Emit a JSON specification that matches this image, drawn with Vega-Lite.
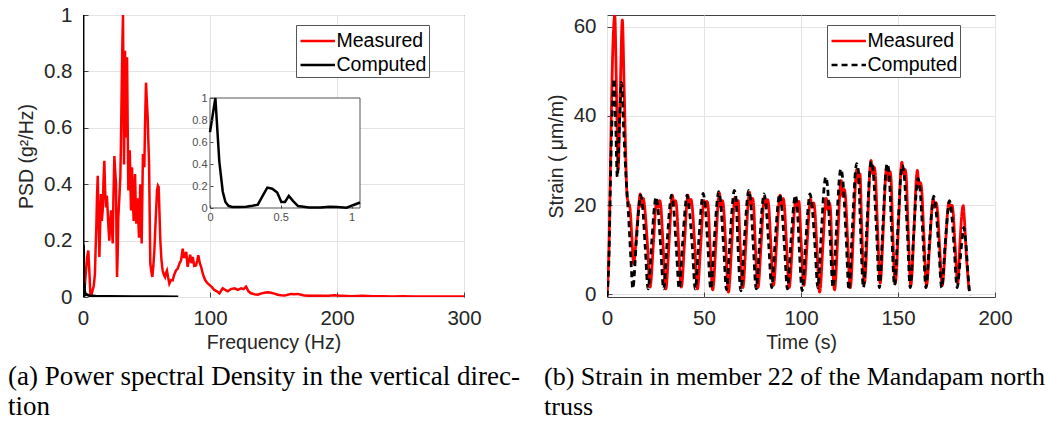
{
  "$schema": "https://vega.github.io/schema/vega-lite/v6.json",
  "background": "white",
  "padding": {"left": 7, "top": 4, "right": 0, "bottom": 0},
  "config": {
    "view": {"stroke": "#444444", "strokeWidth": 1},
    "font": "Liberation Sans",
    "axis": {"grid": true, "gridColor": "#e3e3e3", "gridWidth": 1, "domain": false, "ticks": true, "tickSize": -5, "tickColor": "#444444", "labelFlush": false, "labelFont": "Liberation Sans", "labelFontSize": 20.5, "labelColor": "#262626", "labelPadding": 16, "titleFont": "Liberation Sans", "titleFontSize": 19.5, "titleFontWeight": "normal", "titleColor": "#262626"},
    "axisX": {"titlePadding": 5},
    "axisY": {"titlePadding": 7},
    "legend": {"orient": "none", "symbolType": "M-0.9,0H1.8", "symbolSize": 650, "symbolStrokeWidth": 2.5, "labelFont": "Liberation Sans", "labelFontSize": 19.5, "labelColor": "black", "labelOffset": 10.5, "strokeColor": "#555555", "strokeWidth": 1, "fillColor": "white", "padding": 2, "rowPadding": 0},
    "title": {"font": "Liberation Serif", "fontSize": 26, "fontWeight": "normal", "color": "black", "lineHeight": 30, "anchor": "start"}
  },
  "datasets": {
    "psdm": [
      {"f":0,"p":0,"s":"Measured"},{"f":0.8,"p":0.01,"s":"Measured"},{"f":1.6,"p":0.05,"s":"Measured"},{"f":2.4,"p":0.094,"s":"Measured"},{"f":3.2,"p":0.14,"s":"Measured"},{"f":4.2,"p":0.165,"s":"Measured"},{"f":5.0,"p":0.09,"s":"Measured"},{"f":5.8,"p":0.013,"s":"Measured"},{"f":6.7,"p":0.01,"s":"Measured"},{"f":7.6,"p":0.024,"s":"Measured"},{"f":8.5,"p":0.04,"s":"Measured"},{"f":9.4,"p":0.083,"s":"Measured"},{"f":10.0,"p":0.18,"s":"Measured"},{"f":10.5,"p":0.248,"s":"Measured"},{"f":11.0,"p":0.35,"s":"Measured"},{"f":11.6,"p":0.43,"s":"Measured"},{"f":12.2,"p":0.3,"s":"Measured"},{"f":12.9,"p":0.142,"s":"Measured"},{"f":13.5,"p":0.25,"s":"Measured"},{"f":14.2,"p":0.365,"s":"Measured"},{"f":14.8,"p":0.27,"s":"Measured"},{"f":15.5,"p":0.307,"s":"Measured"},{"f":16.2,"p":0.42,"s":"Measured"},{"f":16.8,"p":0.483,"s":"Measured"},{"f":17.4,"p":0.38,"s":"Measured"},{"f":18.1,"p":0.318,"s":"Measured"},{"f":18.8,"p":0.36,"s":"Measured"},{"f":19.4,"p":0.307,"s":"Measured"},{"f":20.0,"p":0.25,"s":"Measured"},{"f":20.7,"p":0.2,"s":"Measured"},{"f":21.4,"p":0.26,"s":"Measured"},{"f":22.1,"p":0.307,"s":"Measured"},{"f":22.8,"p":0.24,"s":"Measured"},{"f":23.4,"p":0.19,"s":"Measured"},{"f":24.0,"p":0.36,"s":"Measured"},{"f":24.7,"p":0.5,"s":"Measured"},{"f":25.3,"p":0.45,"s":"Measured"},{"f":26.0,"p":0.4,"s":"Measured"},{"f":26.4,"p":0.2,"s":"Measured"},{"f":26.8,"p":0.071,"s":"Measured"},{"f":27.3,"p":0.15,"s":"Measured"},{"f":27.8,"p":0.28,"s":"Measured"},{"f":28.6,"p":0.35,"s":"Measured"},{"f":29.4,"p":0.425,"s":"Measured"},{"f":29.9,"p":0.55,"s":"Measured"},{"f":30.4,"p":0.72,"s":"Measured"},{"f":31.0,"p":0.9,"s":"Measured"},{"f":31.5,"p":1.0,"s":"Measured"},{"f":31.9,"p":0.75,"s":"Measured"},{"f":32.3,"p":0.47,"s":"Measured"},{"f":32.7,"p":0.65,"s":"Measured"},{"f":33.1,"p":0.873,"s":"Measured"},{"f":33.5,"p":0.7,"s":"Measured"},{"f":33.9,"p":0.566,"s":"Measured"},{"f":34.3,"p":0.75,"s":"Measured"},{"f":34.7,"p":0.85,"s":"Measured"},{"f":35.2,"p":0.6,"s":"Measured"},{"f":35.7,"p":0.378,"s":"Measured"},{"f":36.2,"p":0.45,"s":"Measured"},{"f":36.8,"p":0.52,"s":"Measured"},{"f":37.3,"p":0.42,"s":"Measured"},{"f":37.8,"p":0.307,"s":"Measured"},{"f":38.2,"p":0.38,"s":"Measured"},{"f":38.6,"p":0.46,"s":"Measured"},{"f":39.2,"p":0.35,"s":"Measured"},{"f":39.9,"p":0.27,"s":"Measured"},{"f":40.4,"p":0.36,"s":"Measured"},{"f":41.0,"p":0.436,"s":"Measured"},{"f":41.5,"p":0.33,"s":"Measured"},{"f":42.0,"p":0.26,"s":"Measured"},{"f":42.5,"p":0.3,"s":"Measured"},{"f":43.0,"p":0.35,"s":"Measured"},{"f":43.5,"p":0.28,"s":"Measured"},{"f":44.1,"p":0.21,"s":"Measured"},{"f":44.6,"p":0.3,"s":"Measured"},{"f":45.1,"p":0.4,"s":"Measured"},{"f":45.6,"p":0.3,"s":"Measured"},{"f":46.2,"p":0.19,"s":"Measured"},{"f":46.7,"p":0.35,"s":"Measured"},{"f":47.2,"p":0.507,"s":"Measured"},{"f":47.7,"p":0.48,"s":"Measured"},{"f":48.3,"p":0.46,"s":"Measured"},{"f":48.9,"p":0.62,"s":"Measured"},{"f":49.6,"p":0.76,"s":"Measured"},{"f":50.2,"p":0.7,"s":"Measured"},{"f":50.9,"p":0.64,"s":"Measured"},{"f":51.4,"p":0.56,"s":"Measured"},{"f":52.0,"p":0.48,"s":"Measured"},{"f":52.5,"p":0.3,"s":"Measured"},{"f":53.0,"p":0.118,"s":"Measured"},{"f":53.8,"p":0.09,"s":"Measured"},{"f":54.6,"p":0.071,"s":"Measured"},{"f":55.4,"p":0.11,"s":"Measured"},{"f":56.2,"p":0.165,"s":"Measured"},{"f":57.2,"p":0.27,"s":"Measured"},{"f":58.3,"p":0.378,"s":"Measured"},{"f":59.0,"p":0.395,"s":"Measured"},{"f":59.6,"p":0.39,"s":"Measured"},{"f":60.2,"p":0.3,"s":"Measured"},{"f":60.9,"p":0.2,"s":"Measured"},{"f":61.8,"p":0.13,"s":"Measured"},{"f":62.7,"p":0.094,"s":"Measured"},{"f":63.6,"p":0.08,"s":"Measured"},{"f":64.6,"p":0.071,"s":"Measured"},{"f":65.3,"p":0.085,"s":"Measured"},{"f":66.1,"p":0.094,"s":"Measured"},{"f":67.0,"p":0.07,"s":"Measured"},{"f":68.0,"p":0.047,"s":"Measured"},{"f":69.3,"p":0.06,"s":"Measured"},{"f":70.6,"p":0.059,"s":"Measured"},{"f":71.9,"p":0.08,"s":"Measured"},{"f":73.2,"p":0.094,"s":"Measured"},{"f":74.5,"p":0.1,"s":"Measured"},{"f":75.9,"p":0.118,"s":"Measured"},{"f":77.2,"p":0.13,"s":"Measured"},{"f":78.5,"p":0.171,"s":"Measured"},{"f":79.5,"p":0.142,"s":"Measured"},{"f":80.3,"p":0.142,"s":"Measured"},{"f":81.3,"p":0.16,"s":"Measured"},{"f":82.4,"p":0.107,"s":"Measured"},{"f":83.4,"p":0.13,"s":"Measured"},{"f":84.4,"p":0.15,"s":"Measured"},{"f":85.4,"p":0.12,"s":"Measured"},{"f":86.4,"p":0.142,"s":"Measured"},{"f":87.6,"p":0.11,"s":"Measured"},{"f":89.0,"p":0.112,"s":"Measured"},{"f":90.0,"p":0.13,"s":"Measured"},{"f":90.8,"p":0.148,"s":"Measured"},{"f":92.0,"p":0.12,"s":"Measured"},{"f":93.0,"p":0.107,"s":"Measured"},{"f":94.5,"p":0.08,"s":"Measured"},{"f":96.1,"p":0.061,"s":"Measured"},{"f":97.8,"p":0.05,"s":"Measured"},{"f":99.5,"p":0.043,"s":"Measured"},{"f":101.5,"p":0.035,"s":"Measured"},{"f":103.4,"p":0.025,"s":"Measured"},{"f":105.4,"p":0.02,"s":"Measured"},{"f":107.4,"p":0.013,"s":"Measured"},{"f":108.7,"p":0.022,"s":"Measured"},{"f":110.0,"p":0.031,"s":"Measured"},{"f":112.0,"p":0.025,"s":"Measured"},{"f":114.0,"p":0.02,"s":"Measured"},{"f":116.5,"p":0.028,"s":"Measured"},{"f":119.2,"p":0.031,"s":"Measured"},{"f":122.0,"p":0.025,"s":"Measured"},{"f":124.5,"p":0.031,"s":"Measured"},{"f":126.5,"p":0.028,"s":"Measured"},{"f":128.4,"p":0.037,"s":"Measured"},{"f":130.3,"p":0.02,"s":"Measured"},{"f":132.3,"p":0.013,"s":"Measured"},{"f":135.0,"p":0.01,"s":"Measured"},{"f":137.6,"p":0.008,"s":"Measured"},{"f":140.0,"p":0.012,"s":"Measured"},{"f":142.8,"p":0.015,"s":"Measured"},{"f":145.5,"p":0.017,"s":"Measured"},{"f":148.1,"p":0.015,"s":"Measured"},{"f":150.7,"p":0.012,"s":"Measured"},{"f":153.3,"p":0.008,"s":"Measured"},{"f":156.0,"p":0.006,"s":"Measured"},{"f":158.6,"p":0.005,"s":"Measured"},{"f":161.2,"p":0.008,"s":"Measured"},{"f":163.8,"p":0.011,"s":"Measured"},{"f":166.4,"p":0.01,"s":"Measured"},{"f":169.0,"p":0.011,"s":"Measured"},{"f":171.7,"p":0.008,"s":"Measured"},{"f":174.3,"p":0.005,"s":"Measured"},{"f":180,"p":0.004,"s":"Measured"},{"f":186,"p":0.004,"s":"Measured"},{"f":192,"p":0.004,"s":"Measured"},{"f":197.9,"p":0.006,"s":"Measured"},{"f":204,"p":0.004,"s":"Measured"},{"f":212,"p":0.003,"s":"Measured"},{"f":220,"p":0.004,"s":"Measured"},{"f":228,"p":0.003,"s":"Measured"},{"f":236,"p":0.003,"s":"Measured"},{"f":244,"p":0.002,"s":"Measured"},{"f":252,"p":0.003,"s":"Measured"},{"f":260,"p":0.002,"s":"Measured"},{"f":270,"p":0.002,"s":"Measured"},{"f":280,"p":0.002,"s":"Measured"},{"f":290,"p":0.002,"s":"Measured"},{"f":300,"p":0.002,"s":"Measured"}
    ],
    "psdc": [
      {"f":0,"p":0.69,"s":"Computed"},{"f":0.038,"p":1.0,"s":"Computed"},{"f":0.066,"p":0.42,"s":"Computed"},{"f":0.09,"p":0.15,"s":"Computed"},{"f":0.109,"p":0.055,"s":"Computed"},{"f":0.13,"p":0.02,"s":"Computed"},{"f":0.156,"p":0.01,"s":"Computed"},{"f":0.2,"p":0.008,"s":"Computed"},{"f":0.255,"p":0.012,"s":"Computed"},{"f":0.3,"p":0.02,"s":"Computed"},{"f":0.338,"p":0.03,"s":"Computed"},{"f":0.374,"p":0.115,"s":"Computed"},{"f":0.405,"p":0.185,"s":"Computed"},{"f":0.44,"p":0.175,"s":"Computed"},{"f":0.475,"p":0.14,"s":"Computed"},{"f":0.504,"p":0.055,"s":"Computed"},{"f":0.53,"p":0.055,"s":"Computed"},{"f":0.557,"p":0.11,"s":"Computed"},{"f":0.586,"p":0.065,"s":"Computed"},{"f":0.622,"p":0.018,"s":"Computed"},{"f":0.7,"p":0.005,"s":"Computed"},{"f":0.78,"p":0.005,"s":"Computed"},{"f":0.846,"p":0.012,"s":"Computed"},{"f":0.9,"p":0.008,"s":"Computed"},{"f":0.965,"p":0.002,"s":"Computed"},{"f":1.01,"p":0.025,"s":"Computed"},{"f":1.06,"p":0.05,"s":"Computed"},{"f":1.3,"p":0.02,"s":"Computed"},{"f":2,"p":0.01,"s":"Computed"},{"f":5,"p":0.005,"s":"Computed"},{"f":10,"p":0.003,"s":"Computed"},{"f":20,"p":0.002,"s":"Computed"},{"f":40,"p":0.001,"s":"Computed"},{"f":60,"p":0.001,"s":"Computed"},{"f":75,"p":0,"s":"Computed"}
    ],
    "sm": [
      {"t":0,"v":-0.5,"s":"Measured"},{"t":1,"v":10,"s":"Measured"},{"t":2,"v":35,"s":"Measured"},{"t":3,"v":55,"s":"Measured"},{"t":4.0,"v":62.5,"s":"Measured"},{"t":4.9,"v":45,"s":"Measured"},{"t":5.7,"v":28,"s":"Measured"},{"t":6.8,"v":45,"s":"Measured"},{"t":7.9,"v":61.5,"s":"Measured"},{"t":8.9,"v":45,"s":"Measured"},{"t":10.4,"v":21.8,"s":"Measured"},{"t":11.1,"v":20.5,"s":"Measured"},{"t":11.8,"v":19.5,"s":"Measured"},{"t":12.8,"v":13,"s":"Measured"},
      {"t":13.7,"v":6.9,"s":"Measured"},{"t":15.4,"v":14.7,"s":"Measured"},{"t":16.6,"v":21.0,"s":"Measured"},{"t":17.1,"v":22.5,"s":"Measured"},{"t":17.9,"v":19.6,"s":"Measured"},{"t":18.7,"v":21.5,"s":"Measured"},{"t":19.3,"v":20.0,"s":"Measured"},{"t":20.8,"v":11.5,"s":"Measured"},
      {"t":22.2,"v":1.6,"s":"Measured"},{"t":23.9,"v":11.3,"s":"Measured"},{"t":25.1,"v":19.5,"s":"Measured"},{"t":25.6,"v":21.0,"s":"Measured"},{"t":26.4,"v":19.5,"s":"Measured"},{"t":27.2,"v":21.0,"s":"Measured"},{"t":27.8,"v":19.5,"s":"Measured"},{"t":28.9,"v":11.1,"s":"Measured"},
      {"t":30.3,"v":1.2,"s":"Measured"},{"t":32.0,"v":11.7,"s":"Measured"},{"t":33.2,"v":20.7,"s":"Measured"},{"t":33.7,"v":22.2,"s":"Measured"},{"t":34.5,"v":20.0,"s":"Measured"},{"t":35.3,"v":21.0,"s":"Measured"},{"t":35.9,"v":19.5,"s":"Measured"},{"t":36.9,"v":11.3,"s":"Measured"},
      {"t":38.3,"v":1.6,"s":"Measured"},{"t":40.0,"v":11.9,"s":"Measured"},{"t":41.2,"v":20.7,"s":"Measured"},{"t":41.7,"v":22.2,"s":"Measured"},{"t":42.5,"v":20.0,"s":"Measured"},{"t":43.3,"v":21.3,"s":"Measured"},{"t":43.9,"v":19.8,"s":"Measured"},{"t":45.2,"v":11.2,"s":"Measured"},
      {"t":46.6,"v":1.2,"s":"Measured"},{"t":48.3,"v":11.1,"s":"Measured"},{"t":49.5,"v":19.5,"s":"Measured"},{"t":50.0,"v":21.0,"s":"Measured"},{"t":50.8,"v":19.5,"s":"Measured"},{"t":51.6,"v":20.8,"s":"Measured"},{"t":52.2,"v":19.3,"s":"Measured"},{"t":53.1,"v":10.9,"s":"Measured"},
      {"t":54.5,"v":1.0,"s":"Measured"},{"t":56.2,"v":11.9,"s":"Measured"},{"t":57.4,"v":21.3,"s":"Measured"},{"t":57.9,"v":22.8,"s":"Measured"},{"t":58.7,"v":19.5,"s":"Measured"},{"t":59.5,"v":21.0,"s":"Measured"},{"t":60.1,"v":19.5,"s":"Measured"},{"t":61.2,"v":10.8,"s":"Measured"},
      {"t":62.6,"v":0.5,"s":"Measured"},{"t":64.3,"v":11.2,"s":"Measured"},{"t":65.5,"v":20.3,"s":"Measured"},{"t":66.0,"v":21.8,"s":"Measured"},{"t":66.8,"v":19.8,"s":"Measured"},{"t":67.6,"v":21.0,"s":"Measured"},{"t":68.6,"v":11.3,"s":"Measured"},
      {"t":70.0,"v":1.5,"s":"Measured"},{"t":71.7,"v":12.2,"s":"Measured"},{"t":72.9,"v":21.4,"s":"Measured"},{"t":73.4,"v":22.9,"s":"Measured"},{"t":74.2,"v":20.0,"s":"Measured"},{"t":75.0,"v":21.5,"s":"Measured"},{"t":75.6,"v":20.0,"s":"Measured"},{"t":76.4,"v":11.5,"s":"Measured"},
      {"t":77.8,"v":1.5,"s":"Measured"},{"t":79.5,"v":11.7,"s":"Measured"},{"t":80.7,"v":20.3,"s":"Measured"},{"t":81.2,"v":21.8,"s":"Measured"},{"t":82.0,"v":19.8,"s":"Measured"},{"t":82.8,"v":21.2,"s":"Measured"},{"t":83.4,"v":19.7,"s":"Measured"},{"t":84.4,"v":11.6,"s":"Measured"},
      {"t":85.8,"v":2.0,"s":"Measured"},{"t":87.5,"v":12.1,"s":"Measured"},{"t":88.7,"v":20.7,"s":"Measured"},{"t":89.2,"v":22.2,"s":"Measured"},{"t":90.0,"v":20.0,"s":"Measured"},{"t":90.8,"v":21.5,"s":"Measured"},{"t":91.4,"v":20.0,"s":"Measured"},{"t":92.5,"v":11.5,"s":"Measured"},
      {"t":93.9,"v":1.5,"s":"Measured"},{"t":95.6,"v":11.5,"s":"Measured"},{"t":96.8,"v":19.9,"s":"Measured"},{"t":97.3,"v":21.4,"s":"Measured"},{"t":98.1,"v":19.5,"s":"Measured"},{"t":98.9,"v":20.8,"s":"Measured"},{"t":100.1,"v":11.4,"s":"Measured"},
      {"t":101.5,"v":2.0,"s":"Measured"},{"t":103.2,"v":11.7,"s":"Measured"},{"t":104.4,"v":19.9,"s":"Measured"},{"t":104.9,"v":21.4,"s":"Measured"},{"t":105.7,"v":19.5,"s":"Measured"},{"t":106.5,"v":20.5,"s":"Measured"},{"t":107.1,"v":19.0,"s":"Measured"},{"t":108.2,"v":10.5,"s":"Measured"},
      {"t":109.6,"v":0.5,"s":"Measured"},{"t":111.3,"v":11.0,"s":"Measured"},{"t":112.5,"v":20.0,"s":"Measured"},{"t":113.0,"v":21.5,"s":"Measured"},{"t":113.8,"v":19.0,"s":"Measured"},{"t":114.6,"v":20.5,"s":"Measured"},{"t":115.2,"v":19.0,"s":"Measured"},{"t":115.9,"v":10.8,"s":"Measured"},
      {"t":117.3,"v":1.0,"s":"Measured"},{"t":119.0,"v":13.3,"s":"Measured"},{"t":120.2,"v":24.0,"s":"Measured"},{"t":120.7,"v":25.5,"s":"Measured"},{"t":121.5,"v":22.0,"s":"Measured"},{"t":122.3,"v":23.5,"s":"Measured"},{"t":122.9,"v":22.0,"s":"Measured"},{"t":124.0,"v":12.5,"s":"Measured"},
      {"t":125.4,"v":1.5,"s":"Measured"},{"t":127.1,"v":14.8,"s":"Measured"},{"t":128.3,"v":26.5,"s":"Measured"},{"t":128.8,"v":28.0,"s":"Measured"},{"t":129.6,"v":25.0,"s":"Measured"},{"t":130.4,"v":27.0,"s":"Measured"},{"t":131.3,"v":14.8,"s":"Measured"},
      {"t":132.7,"v":2.5,"s":"Measured"},{"t":134.4,"v":16.3,"s":"Measured"},{"t":135.6,"v":28.5,"s":"Measured"},{"t":136.1,"v":30.0,"s":"Measured"},{"t":136.9,"v":27.0,"s":"Measured"},{"t":137.7,"v":28.5,"s":"Measured"},{"t":138.3,"v":27.0,"s":"Measured"},{"t":139.4,"v":15.5,"s":"Measured"},
      {"t":140.8,"v":2.5,"s":"Measured"},{"t":142.5,"v":15.5,"s":"Measured"},{"t":143.7,"v":27.0,"s":"Measured"},{"t":144.2,"v":28.5,"s":"Measured"},{"t":145.0,"v":25.5,"s":"Measured"},{"t":145.8,"v":27.5,"s":"Measured"},{"t":146.4,"v":26.0,"s":"Measured"},{"t":147.2,"v":15.0,"s":"Measured"},
      {"t":148.6,"v":2.5,"s":"Measured"},{"t":150.3,"v":16.0,"s":"Measured"},{"t":151.5,"v":28.0,"s":"Measured"},{"t":152.0,"v":29.6,"s":"Measured"},{"t":152.8,"v":27.0,"s":"Measured"},{"t":153.6,"v":28.0,"s":"Measured"},{"t":154.2,"v":26.5,"s":"Measured"},{"t":155.2,"v":15.0,"s":"Measured"},
      {"t":156.6,"v":2.0,"s":"Measured"},{"t":158.3,"v":14.9,"s":"Measured"},{"t":159.5,"v":26.3,"s":"Measured"},{"t":160.0,"v":27.8,"s":"Measured"},{"t":160.8,"v":24.0,"s":"Measured"},{"t":161.6,"v":25.0,"s":"Measured"},{"t":162.2,"v":23.5,"s":"Measured"},{"t":163.3,"v":13.5,"s":"Measured"},
      {"t":164.7,"v":2.0,"s":"Measured"},{"t":166.4,"v":11.7,"s":"Measured"},{"t":167.6,"v":19.9,"s":"Measured"},{"t":168.1,"v":21.4,"s":"Measured"},{"t":168.9,"v":19.5,"s":"Measured"},{"t":169.7,"v":20.5,"s":"Measured"},{"t":170.3,"v":19.0,"s":"Measured"},{"t":171.4,"v":11.2,"s":"Measured"},
      {"t":172.8,"v":2.0,"s":"Measured"},{"t":174.5,"v":11.3,"s":"Measured"},{"t":175.7,"v":19.2,"s":"Measured"},{"t":176.2,"v":20.7,"s":"Measured"},{"t":177.0,"v":19.0,"s":"Measured"},{"t":177.8,"v":20.0,"s":"Measured"},{"t":178.4,"v":18.5,"s":"Measured"},{"t":179.4,"v":11.2,"s":"Measured"},
      {"t":180.8,"v":2.5,"s":"Measured"},{"t":182.0,"v":12,"s":"Measured"},{"t":183.0,"v":18.5,"s":"Measured"},{"t":183.6,"v":19.9,"s":"Measured"},{"t":184.2,"v":17,"s":"Measured"},{"t":185.2,"v":9,"s":"Measured"},{"t":186.6,"v":1.0,"s":"Measured"}
    ],
    "sc": [
      {"t":0,"v":-0.5,"s":"Computed"},{"t":1,"v":8,"s":"Computed"},{"t":2,"v":30,"s":"Computed"},{"t":2.9,"v":43,"s":"Computed"},{"t":3.7,"v":48.3,"s":"Computed"},{"t":4.5,"v":38,"s":"Computed"},{"t":5.3,"v":26.3,"s":"Computed"},{"t":6.4,"v":38,"s":"Computed"},{"t":7.5,"v":47.5,"s":"Computed"},{"t":8.5,"v":38,"s":"Computed"},{"t":10.0,"v":24.8,"s":"Computed"},{"t":11.2,"v":17,"s":"Computed"},{"t":12.3,"v":8,"s":"Computed"},
      {"t":13.3,"v":1.3,"s":"Computed"},{"t":15.1,"v":11.7,"s":"Computed"},{"t":16.6,"v":20.2,"s":"Computed"},{"t":17.3,"v":22.2,"s":"Computed"},{"t":18.3,"v":20.0,"s":"Computed"},{"t":19.7,"v":10.6,"s":"Computed"},
      {"t":21.2,"v":1.2,"s":"Computed"},{"t":23.0,"v":11.5,"s":"Computed"},{"t":24.5,"v":19.8,"s":"Computed"},{"t":25.2,"v":21.8,"s":"Computed"},{"t":26.2,"v":19.6,"s":"Computed"},{"t":27.7,"v":10.4,"s":"Computed"},
      {"t":29.2,"v":1.2,"s":"Computed"},{"t":31.0,"v":11.7,"s":"Computed"},{"t":32.5,"v":20.2,"s":"Computed"},{"t":33.2,"v":22.2,"s":"Computed"},{"t":34.2,"v":20.0,"s":"Computed"},{"t":35.7,"v":10.6,"s":"Computed"},
      {"t":37.2,"v":1.3,"s":"Computed"},{"t":39.0,"v":11.7,"s":"Computed"},{"t":40.5,"v":20.2,"s":"Computed"},{"t":41.2,"v":22.2,"s":"Computed"},{"t":42.2,"v":20.0,"s":"Computed"},{"t":44.0,"v":10.6,"s":"Computed"},
      {"t":45.5,"v":1.2,"s":"Computed"},{"t":47.3,"v":11.9,"s":"Computed"},{"t":48.8,"v":20.6,"s":"Computed"},{"t":49.5,"v":22.6,"s":"Computed"},{"t":50.5,"v":20.4,"s":"Computed"},{"t":52.0,"v":10.8,"s":"Computed"},
      {"t":53.5,"v":1.2,"s":"Computed"},{"t":55.3,"v":12.1,"s":"Computed"},{"t":56.8,"v":21.0,"s":"Computed"},{"t":57.5,"v":23.0,"s":"Computed"},{"t":58.5,"v":20.8,"s":"Computed"},{"t":60.1,"v":10.9,"s":"Computed"},
      {"t":61.6,"v":1.0,"s":"Computed"},{"t":63.4,"v":12.1,"s":"Computed"},{"t":64.9,"v":21.3,"s":"Computed"},{"t":65.6,"v":23.3,"s":"Computed"},{"t":66.6,"v":21.1,"s":"Computed"},{"t":67.5,"v":10.9,"s":"Computed"},
      {"t":69.0,"v":0.8,"s":"Computed"},{"t":70.8,"v":12.0,"s":"Computed"},{"t":72.3,"v":21.3,"s":"Computed"},{"t":73.0,"v":23.3,"s":"Computed"},{"t":74.0,"v":21.1,"s":"Computed"},{"t":75.4,"v":11.1,"s":"Computed"},
      {"t":76.9,"v":1.2,"s":"Computed"},{"t":78.7,"v":11.8,"s":"Computed"},{"t":80.2,"v":20.5,"s":"Computed"},{"t":80.9,"v":22.5,"s":"Computed"},{"t":81.9,"v":20.3,"s":"Computed"},{"t":83.4,"v":10.9,"s":"Computed"},
      {"t":84.9,"v":1.5,"s":"Computed"},{"t":86.7,"v":12.0,"s":"Computed"},{"t":88.2,"v":20.5,"s":"Computed"},{"t":88.9,"v":22.5,"s":"Computed"},{"t":89.9,"v":20.3,"s":"Computed"},{"t":91.5,"v":10.7,"s":"Computed"},
      {"t":93.0,"v":1.2,"s":"Computed"},{"t":94.8,"v":11.7,"s":"Computed"},{"t":96.3,"v":20.2,"s":"Computed"},{"t":97.0,"v":22.2,"s":"Computed"},{"t":98.0,"v":20.0,"s":"Computed"},{"t":99.1,"v":10.4,"s":"Computed"},
      {"t":100.6,"v":0.8,"s":"Computed"},{"t":102.4,"v":11.6,"s":"Computed"},{"t":103.9,"v":20.5,"s":"Computed"},{"t":104.6,"v":22.5,"s":"Computed"},{"t":105.6,"v":20.3,"s":"Computed"},{"t":107.2,"v":10.9,"s":"Computed"},
      {"t":108.7,"v":1.5,"s":"Computed"},{"t":110.5,"v":13.9,"s":"Computed"},{"t":112.0,"v":24.3,"s":"Computed"},{"t":112.7,"v":26.3,"s":"Computed"},{"t":113.7,"v":24.1,"s":"Computed"},{"t":115.0,"v":12.8,"s":"Computed"},
      {"t":116.5,"v":1.5,"s":"Computed"},{"t":118.3,"v":14.8,"s":"Computed"},{"t":119.8,"v":26.1,"s":"Computed"},{"t":120.5,"v":28.1,"s":"Computed"},{"t":121.5,"v":25.9,"s":"Computed"},{"t":123.2,"v":13.4,"s":"Computed"},
      {"t":124.7,"v":1.0,"s":"Computed"},{"t":126.5,"v":15.1,"s":"Computed"},{"t":128.0,"v":27.3,"s":"Computed"},{"t":128.7,"v":29.3,"s":"Computed"},{"t":129.7,"v":27.1,"s":"Computed"},{"t":130.7,"v":14.3,"s":"Computed"},
      {"t":132.2,"v":1.5,"s":"Computed"},{"t":134.0,"v":15.6,"s":"Computed"},{"t":135.5,"v":27.8,"s":"Computed"},{"t":136.2,"v":29.8,"s":"Computed"},{"t":137.2,"v":27.6,"s":"Computed"},{"t":138.9,"v":14.5,"s":"Computed"},
      {"t":140.4,"v":1.5,"s":"Computed"},{"t":142.2,"v":15.4,"s":"Computed"},{"t":143.7,"v":27.3,"s":"Computed"},{"t":144.4,"v":29.3,"s":"Computed"},{"t":145.4,"v":27.1,"s":"Computed"},{"t":146.7,"v":14.5,"s":"Computed"},
      {"t":148.2,"v":2.0,"s":"Computed"},{"t":150.0,"v":15.4,"s":"Computed"},{"t":151.5,"v":26.9,"s":"Computed"},{"t":152.2,"v":28.9,"s":"Computed"},{"t":153.2,"v":26.7,"s":"Computed"},{"t":154.8,"v":14.1,"s":"Computed"},
      {"t":156.3,"v":1.5,"s":"Computed"},{"t":158.1,"v":13.7,"s":"Computed"},{"t":159.6,"v":24.0,"s":"Computed"},{"t":160.3,"v":26.0,"s":"Computed"},{"t":161.3,"v":23.8,"s":"Computed"},{"t":162.9,"v":12.6,"s":"Computed"},
      {"t":164.4,"v":1.5,"s":"Computed"},{"t":166.2,"v":11.7,"s":"Computed"},{"t":167.7,"v":20.0,"s":"Computed"},{"t":168.4,"v":22.0,"s":"Computed"},{"t":169.4,"v":19.8,"s":"Computed"},{"t":171.0,"v":10.6,"s":"Computed"},
      {"t":172.5,"v":1.5,"s":"Computed"},{"t":174.3,"v":11.2,"s":"Computed"},{"t":175.8,"v":19.0,"s":"Computed"},{"t":176.5,"v":21.0,"s":"Computed"},{"t":177.5,"v":18.8,"s":"Computed"},{"t":179.0,"v":10.1,"s":"Computed"},
      {"t":180.5,"v":1.5,"s":"Computed"},{"t":182.0,"v":7.5,"s":"Computed"},{"t":183.2,"v":13.0,"s":"Computed"},{"t":183.9,"v":15.0,"s":"Computed"},{"t":184.9,"v":12.0,"s":"Computed"},{"t":186.0,"v":5,"s":"Computed"},{"t":187.0,"v":-0.2,"s":"Computed"}
    ]
  },
  "bounds": "flush",
  "spacing": 143,
  "resolve": {"scale": {"color": "independent", "strokeDash": "independent"}, "legend": {"color": "independent", "strokeDash": "independent"}},
  "hconcat": [
    {
      "width": 381,
      "height": 282,
      "title": {"text": ["(a) Power spectral Density in the vertical direc-", "tion"], "orient": "bottom", "anchor": "start", "frame": "group", "dx": -75, "offset": 12, "fontSize": 27},
      "resolve": {"scale": {"x": "independent", "y": "independent"}, "axis": {"x": "independent", "y": "independent"}},
      "layer": [
        {
          "layer": [
            {
              "data": {"name": "psdm"},
              "mark": {"type": "line", "strokeWidth": 2.5, "clip": true},
              "encoding": {
                "x": {"field": "f", "type": "quantitative", "scale": {"domain": [0, 300], "nice": false}, "axis": {"values": [0, 100, 200, 300], "title": "Frequency (Hz)"}},
                "y": {"field": "p", "type": "quantitative", "scale": {"domain": [0, 1], "nice": false}, "axis": {"values": [0, 0.2, 0.4, 0.6, 0.8, 1], "format": "~g", "title": "PSD (g²/Hz)"}},
                "color": {"field": "s", "type": "nominal", "scale": {"domain": ["Measured", "Computed"], "range": ["#ff0000", "#000000"]}, "legend": {"title": null, "legendX": 213, "legendY": 10, "labelExpr": "datum.label + '    '"}}
              }
            },
            {
              "data": {"name": "psdc"},
              "mark": {"type": "line", "strokeWidth": 2.8, "clip": true},
              "encoding": {
                "x": {"field": "f", "type": "quantitative"},
                "y": {"field": "p", "type": "quantitative"},
                "color": {"field": "s", "type": "nominal"}
              }
            }
          ]
        },
        {
          "layer": [
            {
              "data": {"values": [{}]},
              "mark": {"type": "rect", "fill": "white", "stroke": "#555555", "strokeWidth": 1},
              "encoding": {
                "x": {"datum": 0, "type": "quantitative", "scale": {"domain": [0, 1.06], "range": [127, 277], "nice": false, "zero": false}, "axis": {"orient": "bottom", "offset": -89, "values": [0, 0.5, 1], "format": "~g", "labelFontSize": 11, "labelPadding": 6, "tickSize": -3, "labelColor": "#4d4d4d", "title": null, "zindex": 1}},
                "x2": {"datum": 1.06},
                "y": {"datum": 0, "type": "quantitative", "scale": {"domain": [0, 1], "range": [193, 83], "nice": false, "zero": false}, "axis": {"orient": "left", "offset": -127, "values": [0, 0.2, 0.4, 0.6, 0.8, 1], "format": "~g", "labelFontSize": 11, "labelPadding": 6, "tickSize": -3, "labelColor": "#4d4d4d", "title": null, "zindex": 1}},
                "y2": {"datum": 1}
              }
            },
            {
              "data": {"name": "psdc"},
              "transform": [{"filter": "datum.f <= 1.07"}],
              "mark": {"type": "line", "color": "black", "strokeWidth": 2.5},
              "encoding": {
                "x": {"field": "f", "type": "quantitative"},
                "y": {"field": "p", "type": "quantitative"}
              }
            }
          ]
        }
      ]
    },
    {
      "width": 388,
      "height": 282,
      "title": {"text": ["(b) Strain in member 22 of the Mandapam north", "truss"], "orient": "bottom", "anchor": "start", "frame": "group", "dx": -63, "offset": 12},
      "layer": [
        {
          "data": {"name": "sm"},
          "mark": {"type": "line", "strokeWidth": 2.8, "interpolate": "monotone", "clip": true},
          "encoding": {
            "x": {"field": "t", "type": "quantitative", "scale": {"domain": [0, 200], "nice": false}, "axis": {"values": [0, 50, 100, 150, 200], "title": "Time (s)"}},
            "y": {"field": "v", "type": "quantitative", "scale": {"domain": [-0.6, 62.6], "nice": false, "zero": false}, "axis": {"values": [0, 20, 40, 60], "title": "Strain ( μm/m)"}},
            "color": {"field": "s", "type": "nominal", "scale": {"domain": ["Measured", "Computed"], "range": ["#ff0000", "#000000"]}, "legend": {"title": null, "legendX": 220, "legendY": 10, "labelExpr": "datum.label + '    '"}},
            "strokeDash": {"field": "s", "type": "nominal", "scale": {"domain": ["Measured", "Computed"], "range": [[1, 0], [6, 4]]}, "legend": {"title": null, "legendX": 220, "legendY": 10, "labelExpr": "datum.label + '    '"}}
          }
        },
        {
          "data": {"name": "sc"},
          "mark": {"type": "line", "strokeWidth": 2.8, "interpolate": "monotone", "clip": true},
          "encoding": {
            "x": {"field": "t", "type": "quantitative"},
            "y": {"field": "v", "type": "quantitative"},
            "color": {"field": "s", "type": "nominal"},
            "strokeDash": {"field": "s", "type": "nominal"}
          }
        }
      ]
    }
  ]
}
